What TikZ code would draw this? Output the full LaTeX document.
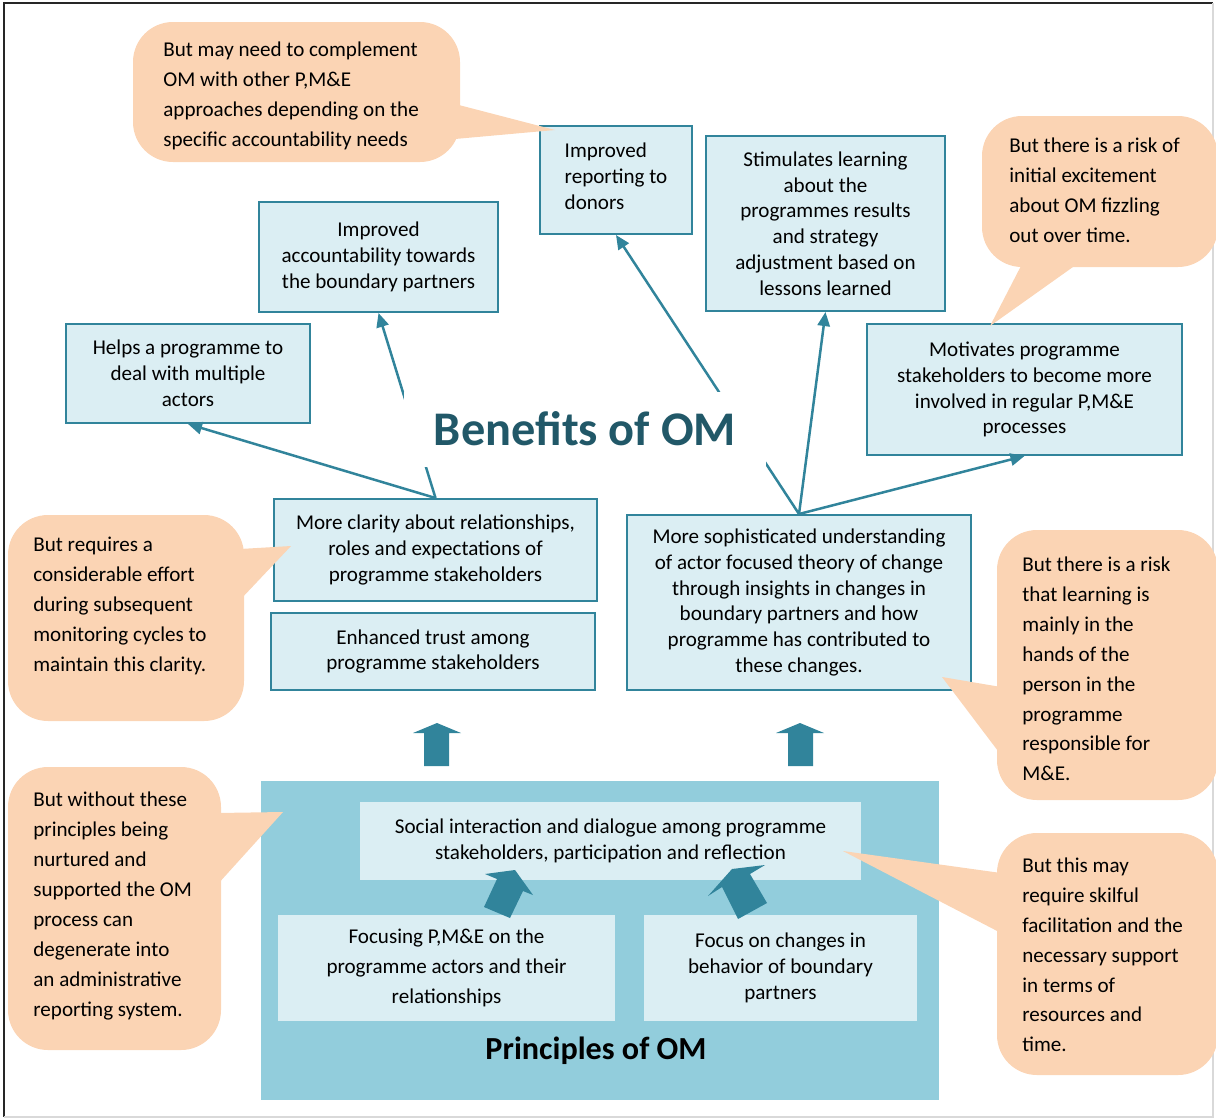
\documentclass[tikz,border=0pt]{standalone}
\usepackage{fontspec}
\setmainfont{Carlito}
\usetikzlibrary{arrows.meta}
\definecolor{boxfill}{HTML}{DBEEF3}
\definecolor{boxline}{HTML}{31849B}
\definecolor{notefill}{HTML}{FBD4B4}
\definecolor{princfill}{HTML}{92CDDC}
\definecolor{titlecolor}{HTML}{215868}
\newcommand{\pxu}{0.02cm}
\newcommand{\noteround}{0.8cm}
\tikzset{
  benefit/.style={draw=boxline, fill=boxfill, line width=2*\pxu, align=center, inner sep=0pt,
    font=\fontsize{12}{14.7}\selectfont},
  principle/.style={fill=boxfill, align=center, inner sep=0pt, font=\fontsize{12}{14.7}\selectfont},
  notetext/.style={anchor=west, align=left, inner sep=0pt, font=\fontsize{12}{17}\selectfont},
  leads/.style={draw=boxline, line width=2.5*\pxu, -{Triangle[length=8pt,width=7pt]}}
}

\begin{document}
\begin{tikzpicture}[x=\pxu, y=-\pxu]
\useasboundingbox (0,0) rectangle (1216,1119);
% frame
\draw[black!85, line width=2*\pxu] (4,1117) -- (4,3) -- (1213,3);
\draw[black!15, line width=1.5*\pxu] (1213,3) -- (1213,1117) -- (4,1117);

% benefits
\node[benefit, align=left, minimum width=152*\pxu, minimum height=108*\pxu] (rep) at (616,180) {Improved\\reporting to\\donors\\[-10pt]};
\node[benefit, minimum width=239*\pxu, minimum height=175*\pxu] (learn) at (825.5,223.5) {Stimulates learning\\about the\\programmes results\\and strategy\\adjustment based on\\lessons learned};
\node[benefit, minimum width=239*\pxu, minimum height=110*\pxu] (acc) at (378.5,257) {Improved\\accountability towards\\the boundary partners};
\node[benefit, minimum width=244*\pxu, minimum height=99*\pxu] (helps) at (188,373.5) {Helps a programme to\\deal with multiple\\actors};
\node[benefit, minimum width=315*\pxu, minimum height=131*\pxu] (motiv) at (1024.5,389.5) {Motivates programme\\stakeholders to become more\\involved in regular P,M\&E\\processes};
\node[benefit, minimum width=323*\pxu, minimum height=102*\pxu] (clarity) at (435.5,550) {More clarity about relationships,\\roles and expectations of\\programme stakeholders};
\node[benefit, minimum width=324*\pxu, minimum height=77*\pxu] (trust) at (433,651.5) {Enhanced trust among\\programme stakeholders};
\node[benefit, minimum width=344*\pxu, minimum height=175*\pxu] (soph) at (799,602.5) {More sophisticated understanding\\of actor focused theory of change\\through insights in changes in\\boundary partners and how\\programme has contributed to\\these changes.};

\draw[leads] (clarity.north) -- (helps.south);
\draw[leads] (clarity.north) -- (acc.south);
\draw[leads] (soph.north) -- (rep.south);
\draw[leads] (soph.north) -- (learn.south);
\draw[leads] (soph.north) -- (motiv.south);

\node[fill=white, text=titlecolor, inner sep=0pt, minimum width=362*\pxu, minimum height=75*\pxu,
  font=\fontsize{27.5}{33}\selectfont\bfseries] (benefits) at (585,429) {Benefits of OM};

% up arrows
\fill[boxline] (424,766) -- (449,766) -- (449,733) -- (461,733) -- (437,723) -- (413,733) -- (424,733) -- cycle;
\fill[boxline] (788,766) -- (813,766) -- (813,733) -- (824,733) -- (800,723) -- (776,733) -- (788,733) -- cycle;

% principles
\node[fill=princfill, inner sep=0pt, minimum width=678*\pxu, minimum height=319*\pxu] (princ) at (600,940.5) {};
\node[principle, minimum width=501*\pxu, minimum height=78*\pxu] (social) at (610.5,841) {Social interaction and dialogue among programme\\stakeholders, participation and reflection};
\node[principle, minimum width=337*\pxu, minimum height=106*\pxu, font=\fontsize{12}{17}\selectfont] (actors) at (446.5,968) {Focusing P,M\&E on the\\programme actors and their\\relationships};
\node[principle, minimum width=273*\pxu, minimum height=106*\pxu] (behav) at (780.5,968) {Focus on changes in\\behavior of boundary\\partners};
\node[inner sep=0pt, font=\fontsize{18.3}{22}\selectfont\bfseries] (princtitle) at (596,1051) {Principles of OM};
\fill[boxline] (515,870) -- (533,895) -- (523,891) -- (510,918) -- (484,907) -- (497,879) -- (485,874) -- cycle;
\fill[boxline] (732,869) -- (765,865) -- (750,874) -- (767,903) -- (738,919) -- (722,887) -- (708,896) -- cycle;

% notes
\fill[notefill, rounded corners=\noteround] (133,22) rectangle (460,162);
\fill[notefill] (455,104) -- (555,130) -- (455,139) -- cycle;
\node[notetext] (noteA) at (163,96) {But may need to complement\\OM with other P,M\&E\\approaches depending on the\\specific accountability needs};

\fill[notefill, rounded corners=\noteround] (982,116) rectangle (1218,267);
\fill[notefill] (1023,262) -- (990,326) -- (1080,262) -- cycle;
\node[notetext] (noteB) at (1009,190) {But there is a risk of\\initial excitement\\about OM fizzling\\out over time.};

\fill[notefill, rounded corners=\noteround] (8,515) rectangle (244,721);
\fill[notefill] (240,549) -- (291,546) -- (240,600) -- cycle;
\node[notetext] (noteC) at (33,606) {But requires a\\considerable effort\\during subsequent\\monitoring cycles to\\maintain this clarity.};

\fill[notefill, rounded corners=\noteround] (997,530) rectangle (1218,800);
\fill[notefill] (1001,687) -- (942,677) -- (1001,755) -- cycle;
\node[notetext] (noteD) at (1022,669) {But there is a risk\\that learning is\\mainly in the\\hands of the\\person in the\\programme\\responsible for\\M\&E.};

\fill[notefill, rounded corners=\noteround] (8,767) rectangle (221,1050);
\fill[notefill] (217,813) -- (283,812) -- (217,885) -- cycle;
\node[notetext] (noteE) at (33,906) {But without these\\principles being\\nurtured and\\supported the OM\\process can\\degenerate into\\an administrative\\reporting system.};

\fill[notefill, rounded corners=\noteround] (997,833) rectangle (1218,1075);
\fill[notefill] (1001,873) -- (843,851) -- (1001,933) -- cycle;
\node[notetext] (noteF) at (1022,955) {But this may\\require skilful\\facilitation and the\\necessary support\\in terms of\\resources and\\time.};
\end{tikzpicture}
\end{document}
